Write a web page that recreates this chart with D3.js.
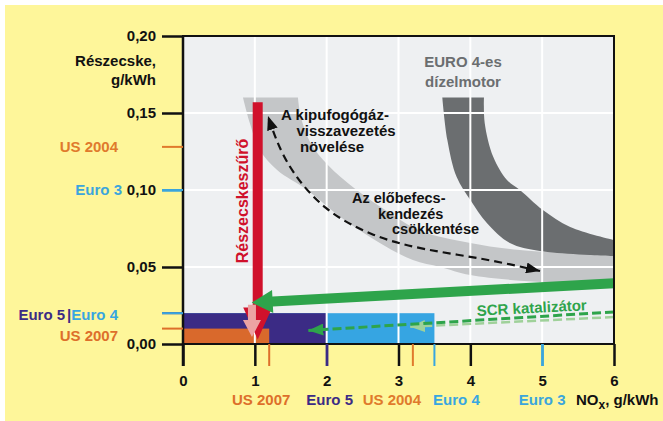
<!DOCTYPE html>
<html lang="hu">
<head>
<meta charset="UTF-8">
<title>Részecske – NOx határértékek</title>
<script src="https://d3js.org/d3.v7.min.js"></script>
<style>
  body { margin: 0; background: #fff; }
  text { font-family: "Liberation Sans", Arial, sans-serif; font-weight: bold; font-size: 15px; }
</style>
</head>
<body>
<script>
// tengelyek
const xTicks = [0, 1, 2, 3, 4, 5, 6];
const yTicks = [0, 0.05, 0.10, 0.15, 0.20];
const yTickLabels = ["0,00", "0,05", "0,10", "0,15", "0,20"];

// határértékek: NOx és részecske, g/kWh
const limitNames = ["US 2007", "Euro 5", "US 2004", "Euro 4", "Euro 3"];
const limitNOx = [1.2, 2.0, 3.2, 3.5, 5.0];
const limitPM = [0.01, 0.02, 0.128, 0.02, 0.10];
const boxNames = ["Euro 4", "Euro 5", "US 2007"]; // rajzolási sorrend

// szürke sávok határai (NOx, részecske)
const lightLower = [[0.835, 0.16], [0.93, 0.1435], [1.07, 0.126], [1.31, 0.113], [1.73, 0.100], [2.19, 0.0825],
  [2.74, 0.0656], [3.20, 0.0545], [3.58, 0.050], [4.0, 0.0448], [4.97, 0.0403], [6, 0.0396]];
const lightUpper = [[1.60, 0.16], [1.64, 0.1475], [1.77, 0.131], [2.02, 0.116], [2.39, 0.101], [2.88, 0.085],
  [3.30, 0.0735], [4.0, 0.0656], [4.69, 0.061], [6, 0.0578]];
const darkLower = [[3.61, 0.16], [3.68, 0.1325], [3.81, 0.1084], [4.0, 0.0935], [4.23, 0.0786], [4.55, 0.0656],
  [4.97, 0.0604], [6, 0.0571]];
const darkUpper = [[4.19, 0.16], [4.20, 0.1435], [4.32, 0.1214], [4.51, 0.1065], [4.69, 0.100], [5.01, 0.087],
  [5.39, 0.076], [6, 0.0675]];

// nyilak
const egrPath = [[4.97, 0.0474], [4.23, 0.0552], [3.37, 0.061], [2.645, 0.0695], [1.95, 0.087], [1.49, 0.113],
  [1.295, 0.1325], [1.183, 0.148]];
const filterArrow = [[1.04, 0.157], [1.04, 0.003]];
const pinkArrow = [[0.96, 0.0255], [0.96, 0.0045]];
const scrArrow = [[6, 0.0394], [0.956, 0.0269]];
const scrDash1 = [[6, 0.0208], [1.745, 0.0088]];
const scrDash2 = [[6, 0.0175], [3.16, 0.0112]];

const width = 663, height = 421;
const colors = {
  "US 2007": "#dd6f2a", "US 2004": "#e07a2c", "Euro 5": "#3b2b85", "Euro 4": "#38a6e0", "Euro 3": "#3ba5dc"
};
const boxColors = { "Euro 4": "#36a5e2", "Euro 5": "#3b2b85", "US 2007": "#d9692c" };

const x = d3.scaleLinear().domain([0, 6]).range([183, 614]);
const y = d3.scaleLinear().domain([0, 0.2]).range([344, 36]);

const svg = d3.select("body").append("svg")
  .attr("width", width).attr("height", height);

// háttér
svg.append("rect").attr("x", 5).attr("y", 5).attr("width", width - 5).attr("height", height - 5)
  .attr("fill", "#fef69a");
svg.append("rect").attr("x", x(0)).attr("y", y(0.2)).attr("width", x(6) - x(0)).attr("height", y(0) - y(0.2))
  .attr("fill", "#eef0f2");

// markerek
const defs = svg.append("defs");
function marker(id, color, w, l) {
  defs.append("marker").attr("id", id)
    .attr("viewBox", `0 0 ${l} ${w}`).attr("refX", l).attr("refY", w / 2)
    .attr("markerWidth", l).attr("markerHeight", w).attr("markerUnits", "userSpaceOnUse")
    .attr("orient", "auto-start-reverse")
    .append("path").attr("d", `M0,0L${l},${w / 2}L0,${w}Z`).attr("fill", color);
}
marker("hBlack", "#111", 11, 14);
marker("hGreen", "#2ea44b", 12, 15);
marker("hLight", "#9fd19a", 12, 15);

// sávok
const line = d3.line().x(d => x(d[0])).y(d => y(d[1])).curve(d3.curveCatmullRom);
function band(lower, upper) {
  return line(lower) + line(upper.slice().reverse()).replace(/^M/, "L") + "Z";
}
svg.append("path").attr("d", band(lightLower, lightUpper)).attr("fill", "#c4c6c8");
svg.append("path").attr("d", band(darkLower, darkUpper)).attr("fill", "#6b6e70");

// határérték-téglalapok
boxNames.forEach(name => {
  const i = limitNames.indexOf(name);
  svg.append("rect")
    .attr("x", x(0)).attr("y", y(limitPM[i]))
    .attr("width", x(limitNOx[i]) - x(0)).attr("height", y(0) - y(limitPM[i]))
    .attr("fill", boxColors[name]);
});

// rácsvonalak
svg.append("g").selectAll("line").data(xTicks.slice(1, -1)).join("line")
  .attr("x1", d => x(d)).attr("x2", d => x(d)).attr("y1", y(0.2)).attr("y2", y(0))
  .attr("stroke", "#fff").attr("stroke-width", 2);
svg.append("g").selectAll("line").data(yTicks.slice(1, -1)).join("line")
  .attr("x1", x(0)).attr("x2", x(6)).attr("y1", d => y(d)).attr("y2", d => y(d))
  .attr("stroke", "#fff").attr("stroke-width", 2);

// kipufogógáz-visszavezetés / befecskendezés nyíl
svg.append("path").attr("d", d3.line().x(d => x(d[0])).y(d => y(d[1])).curve(d3.curveBasis)(egrPath))
  .attr("fill", "none").attr("stroke", "#111").attr("stroke-width", 2.2)
  .attr("stroke-dasharray", "8,5")
  .attr("marker-start", "url(#hBlack)").attr("marker-end", "url(#hBlack)");

// SCR szaggatott nyilak
function straight(pts) { return d3.line().x(d => x(d[0])).y(d => y(d[1]))(pts); }
svg.append("path").attr("d", straight(scrDash2)).attr("stroke", "#9fd19a").attr("stroke-width", 2.5)
  .attr("stroke-dasharray", "9,4").attr("fill", "none").attr("marker-end", "url(#hLight)");
svg.append("path").attr("d", straight(scrDash1)).attr("stroke", "#2ea44b").attr("stroke-width", 3)
  .attr("stroke-dasharray", "9,4").attr("fill", "none").attr("marker-end", "url(#hGreen)");

// vastag nyilak
function arrowPts(a, b, sw, hw, hl) {
  const p0 = [x(a[0]), y(a[1])], p1 = [x(b[0]), y(b[1])];
  const dx = p1[0] - p0[0], dy = p1[1] - p0[1], len = Math.hypot(dx, dy);
  const ux = dx / len, uy = dy / len, nx = -uy, ny = ux;
  const bx = p1[0] - ux * hl, by = p1[1] - uy * hl;
  return [
    [p0[0] + nx * sw / 2, p0[1] + ny * sw / 2], [bx + nx * sw / 2, by + ny * sw / 2],
    [bx + nx * hw / 2, by + ny * hw / 2], p1, [bx - nx * hw / 2, by - ny * hw / 2],
    [bx - nx * sw / 2, by - ny * sw / 2], [p0[0] - nx * sw / 2, p0[1] - ny * sw / 2]
  ].map(p => p.join(",")).join(" ");
}
svg.append("polygon").attr("points", arrowPts(filterArrow[0], filterArrow[1], 10, 29, 32)).attr("fill", "#d0112b");
svg.append("polygon").attr("points", arrowPts(scrArrow[0], scrArrow[1], 10, 23, 21)).attr("fill", "#2ea44b");
svg.append("polygon").attr("points", arrowPts(pinkArrow[0], pinkArrow[1], 8, 18, 17)).attr("fill", "#eca3a3");

// keret
svg.append("rect").attr("x", x(0)).attr("y", y(0.2)).attr("width", x(6) - x(0)).attr("height", y(0) - y(0.2))
  .attr("fill", "none").attr("stroke", "#111").attr("stroke-width", 2);

// tengelyek
const yAxis = svg.append("g").attr("transform", `translate(${x(0)},0)`)
  .call(d3.axisLeft(y).tickValues(yTicks).tickSize(21).tickPadding(6)
    .tickFormat((d, i) => yTickLabels[i]));
const xAxis = svg.append("g").attr("transform", `translate(0,${y(0)})`)
  .call(d3.axisBottom(x).tickValues(xTicks).tickSize(22).tickPadding(6).tickFormat(d3.format("d")));
[yAxis, xAxis].forEach(g => {
  g.select(".domain").remove();
  g.selectAll(".tick line").attr("stroke", "#111").attr("stroke-width", 2.5);
  g.selectAll(".tick text").attr("fill", "#111").style("font-size", "15px");
});
yAxis.selectAll(".tick line").attr("stroke", d => d === 0.10 ? colors["Euro 3"] : "#111");
xAxis.selectAll(".tick line").attr("stroke", d => d === 2 ? colors["Euro 5"] : d === 5 ? colors["Euro 3"] : "#111");
xAxis.selectAll(".tick text").attr("dy", "0.9em");
svg.append("line").attr("x1", x(0)).attr("x2", x(0)).attr("y1", y(0.2)).attr("y2", y(0) + 22)
  .attr("stroke", "#111").attr("stroke-width", 2.5);

// színes határérték-jelek
limitNames.forEach((name, i) => {
  svg.append("line").attr("x1", x(limitNOx[i])).attr("x2", x(limitNOx[i]))
    .attr("y1", y(0)).attr("y2", y(0) + 22).attr("stroke", colors[name]).attr("stroke-width", 2);
  svg.append("line").attr("x1", x(0) - 21).attr("x2", x(0))
    .attr("y1", y(limitPM[i])).attr("y2", y(limitPM[i])).attr("stroke", colors[name]).attr("stroke-width", 2);
});

// alsó feliratok
const bottomShift = { "US 2007": -8, "Euro 5": 3, "US 2004": -21, "Euro 4": 22, "Euro 3": 0 };
limitNames.forEach((name, i) => {
  svg.append("text").attr("x", x(limitNOx[i]) + bottomShift[name]).attr("y", 405)
    .attr("text-anchor", "middle").attr("fill", colors[name]).text(name);
});
const noxLabel = svg.append("text").attr("x", 576).attr("y", 405).attr("fill", "#111");
noxLabel.append("tspan").text("NO");
noxLabel.append("tspan").attr("dy", 4).style("font-size", "12px").text("x");
noxLabel.append("tspan").attr("dy", -4).text(", g/kWh");

// bal oldali feliratok
svg.append("text").attr("x", 118).attr("y", y(limitPM[2])).attr("dy", "0.35em").attr("text-anchor", "end")
  .attr("fill", colors["US 2004"]).text("US 2004");
svg.append("text").attr("x", 122).attr("y", y(limitPM[4])).attr("dy", "0.35em").attr("text-anchor", "end")
  .attr("fill", colors["Euro 3"]).text("Euro 3");
const e54 = svg.append("text").attr("x", 118).attr("y", y(limitPM[1]) + 2).attr("dy", "0.35em").attr("text-anchor", "end");
e54.append("tspan").attr("fill", colors["Euro 5"]).text("Euro 5");
e54.append("tspan").attr("fill", colors["Euro 5"]).attr("dx", 2).text("|");
e54.append("tspan").attr("fill", colors["Euro 4"]).text("Euro 4");
svg.append("text").attr("x", 118).attr("y", y(limitPM[0]) + 7).attr("dy", "0.35em").attr("text-anchor", "end")
  .attr("fill", colors["US 2007"]).text("US 2007");

svg.append("text").attr("x", 156).attr("y", 66).attr("text-anchor", "end").attr("fill", "#111").text("Részecske,");
svg.append("text").attr("x", 156).attr("y", 85).attr("text-anchor", "end").attr("fill", "#111").text("g/kWh");

// feliratok a diagramon
function lines(xs, ys, texts, color, anchor, size) {
  texts.forEach((t, i) => svg.append("text").attr("x", xs[i]).attr("y", ys[i])
    .attr("text-anchor", anchor).attr("fill", color).style("font-size", size).text(t));
}
lines([463, 463], [67, 87], ["EURO 4-es", "dízelmotor"], "#6b6e70", "middle", "15px");
lines([335, 346, 332], [120, 136, 152], ["A kipufogógáz-", "visszavezetés", "növelése"], "#111", "middle", "15px");
lines([352, 378, 392], [203, 219, 234], ["Az előbefecs-", "kendezés", "csökkentése"], "#111", "start", "14.5px");

svg.append("text").attr("transform", "translate(248,201) rotate(-90)").attr("text-anchor", "middle")
  .attr("fill", "#d0112b").style("font-size", "16px").text("Részecskeszűrő");
svg.append("text").attr("transform", "translate(532,313) rotate(-3)").attr("text-anchor", "middle")
  .attr("fill", "#2ea44b").text("SCR katalizátor");
</script>
</body>
</html>
